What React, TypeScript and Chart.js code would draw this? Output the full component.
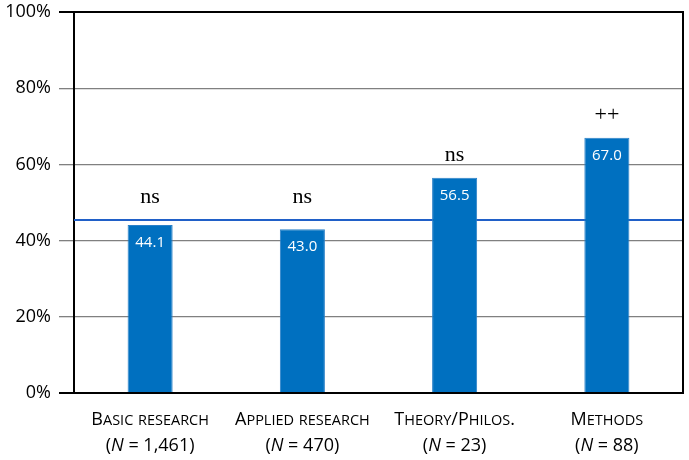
import { useEffect, useRef } from "react";
import { Chart, type Plugin, registerables } from "chart.js";

Chart.register(...registerables);

const CATEGORIES = ["Basic research", "Applied research", "Theory/Philos.", "Methods"];
const SAMPLE_SIZES = ["1,461", "470", "23", "88"];
const PERCENTAGES = [44.1, 43.0, 56.5, 67.0];
const SIGNIFICANCE = ["ns", "ns", "ns", "++"];
const REFERENCE_LINE = 45.4;
const Y_TICKS = [0, 20, 40, 60, 80, 100];

const BAR_BLUE = "#0070C0";
const LINE_BLUE = "#2060C8";
const SANS = "'Open Sans', 'Noto Sans', sans-serif";
const SERIF = "'Liberation Serif', 'DejaVu Serif', serif";

// first letter of each word full size, the rest in smaller capitals
const drawSmallCaps = (ctx: CanvasRenderingContext2D, text: string, cx: number, y: number) => {
  const big = `18px ${SANS}`;
  const small = `14.5px ${SANS}`;
  const parts = Array.from(text).map((ch) => {
    const isLower = ch !== ch.toUpperCase();
    return { ch: ch.toUpperCase(), font: isLower ? small : big };
  });
  let total = 0;
  parts.forEach((p) => {
    ctx.font = p.font;
    total += ctx.measureText(p.ch).width;
  });
  let x = cx - total / 2;
  parts.forEach((p) => {
    ctx.font = p.font;
    ctx.fillText(p.ch, x, y);
    x += ctx.measureText(p.ch).width;
  });
};

const labelsPlugin: Plugin<"bar"> = {
  id: "labelsPlugin",
  beforeDatasetsDraw(chart) {
    const { ctx, chartArea, scales } = chart;
    const y = scales.y.getPixelForValue(REFERENCE_LINE);
    ctx.save();
    ctx.strokeStyle = LINE_BLUE;
    ctx.lineWidth = 2;
    ctx.beginPath();
    ctx.moveTo(chartArea.left, y);
    ctx.lineTo(chartArea.right, y);
    ctx.stroke();
    ctx.restore();
  },
  afterDatasetsDraw(chart) {
    const { ctx, chartArea, scales } = chart;
    const meta = chart.getDatasetMeta(0);
    ctx.save();
    ctx.textBaseline = "alphabetic";

    meta.data.forEach((bar, i) => {
      const top = scales.y.getPixelForValue(PERCENTAGES[i]);
      ctx.fillStyle = "#ffffff";
      ctx.font = `15px ${SANS}`;
      ctx.textAlign = "center";
      ctx.fillText(PERCENTAGES[i].toFixed(1), bar.x, top + 22);

      const above = scales.y.getPixelForValue(Math.max(PERCENTAGES[i], REFERENCE_LINE));
      ctx.fillStyle = "#000000";
      ctx.font = `22px ${SERIF}`;
      ctx.fillText(SIGNIFICANCE[i], bar.x, above - 17);
    });

    // right border of the plot
    ctx.strokeStyle = "#000000";
    ctx.lineWidth = 2;
    ctx.beginPath();
    ctx.moveTo(chartArea.right, chartArea.top - 1);
    ctx.lineTo(chartArea.right, chartArea.bottom + 1);
    ctx.stroke();

    // category labels with sample sizes
    ctx.fillStyle = "#000000";
    CATEGORIES.forEach((name, i) => {
      const cx = scales.x.getPixelForValue(i);
      ctx.textAlign = "left";
      drawSmallCaps(ctx, name, cx, 425);

      const pieces = [
        { t: "(", f: `18px ${SANS}` },
        { t: "N", f: `italic 18px ${SANS}` },
        { t: ` = ${SAMPLE_SIZES[i]})`, f: `18px ${SANS}` },
      ];
      let w = 0;
      pieces.forEach((p) => {
        ctx.font = p.f;
        w += ctx.measureText(p.t).width;
      });
      let x = cx - w / 2;
      pieces.forEach((p) => {
        ctx.font = p.f;
        ctx.fillText(p.t, x, 451);
        x += ctx.measureText(p.t).width;
      });
    });
    ctx.restore();
  },
};

export default function App() {
  const canvasRef = useRef<HTMLCanvasElement>(null);
  const chartInstance = useRef<Chart | null>(null);

  useEffect(() => {
    if (!canvasRef.current) return;
    const ctx = canvasRef.current.getContext("2d");
    if (!ctx) return;

    if (chartInstance.current) {
      chartInstance.current.destroy();
      chartInstance.current = null;
    }

    chartInstance.current = new Chart(ctx, {
      type: "bar",
      data: {
        labels: CATEGORIES,
        datasets: [
          {
            data: PERCENTAGES,
            backgroundColor: BAR_BLUE,
            borderColor: "#2a80c8",
            borderWidth: 1,
            barPercentage: 0.296,
            categoryPercentage: 1,
          },
        ],
      },
      options: {
        animation: false,
        responsive: true,
        maintainAspectRatio: false,
        layout: { padding: { top: 12, right: 6, left: 0, bottom: 0 } },
        plugins: {
          legend: { display: false },
          tooltip: { enabled: false },
        },
        scales: {
          x: {
            ticks: { display: false },
            grid: { display: false },
            border: { color: "#000000", width: 2 },
            afterFit: (scale) => {
              scale.height = 67;
            },
          },
          y: {
            min: 0,
            max: 100,
            afterBuildTicks: (scale) => {
              scale.ticks = Y_TICKS.map((value) => ({ value }));
            },
            ticks: {
              color: "#000000",
              font: { family: SANS, size: 18 },
              padding: 8,
              callback: (v) => `${v}%`,
            },
            grid: {
              tickLength: 15,
              color: (c) => (c.tick.value === 100 || c.tick.value === 0 ? "#000000" : "#808080"),
              lineWidth: (c) => (c.tick.value === 100 || c.tick.value === 0 ? 2 : 1.3),
            },
            border: { color: "#000000", width: 2 },
            afterFit: (scale) => {
              scale.width = 74;
              scale.paddingTop = 0;
              scale.paddingBottom = 0;
            },
          },
        },
      },
      plugins: [labelsPlugin],
    });

    return () => {
      if (chartInstance.current) {
        chartInstance.current.destroy();
        chartInstance.current = null;
      }
    };
  }, []);

  return (
    <div style={{ position: "fixed", left: 0, top: 0, width: 689, height: 460, background: "#ffffff" }}>
      <canvas ref={canvasRef}></canvas>
    </div>
  );
}
